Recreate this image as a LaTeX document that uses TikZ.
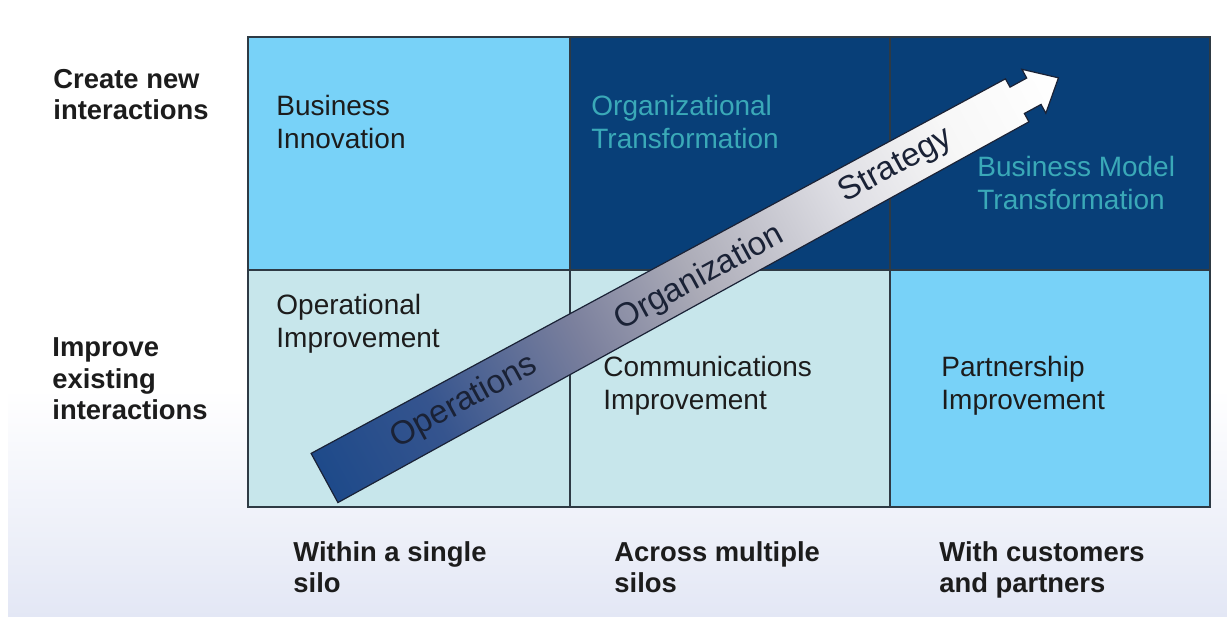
\documentclass[tikz,border=0pt]{standalone}
\usepackage{fontspec}
\setmainfont{Liberation Sans}
\usetikzlibrary{positioning}

\definecolor{skycell}{HTML}{78D2F8}
\definecolor{navycell}{HTML}{083F78}
\definecolor{palecell}{HTML}{C7E6EB}
\definecolor{tealtext}{HTML}{3AA9B8}
\definecolor{inktext}{HTML}{1C1C1C}
\definecolor{phasetext}{HTML}{1A2236}
\definecolor{gridline}{HTML}{2E3A44}
\definecolor{floorblue}{HTML}{E3E7F5}
\definecolor{fadeA}{HTML}{1E4A8A}
\definecolor{fadeB}{HTML}{35548E}
\definecolor{fadeC}{HTML}{7B809D}
\definecolor{fadeD}{HTML}{ABABB7}
\definecolor{fadeE}{HTML}{DDDDE3}
\definecolor{fadeF}{HTML}{F7F7F7}

% blue tail fading to white at the head
\pgfdeclarehorizontalshading{opsfade}{100bp}{%
  color(0bp)=(fadeA); color(25bp)=(fadeA); color(32.5bp)=(fadeB);
  color(42.5bp)=(fadeC); color(50bp)=(fadeD); color(60bp)=(fadeE);
  color(67.5bp)=(fadeF); color(75bp)=(white); color(100bp)=(white)}

\begin{document}
\begin{tikzpicture}[
    x=0.5pt, y=0.5pt,
    axislabel/.style={
      anchor=base west,
      inner sep=0pt,
      align=left,
      font=\fontsize{13.7}{15.8}\selectfont\bfseries,
      text=inktext
    },
    celllabel/.style={
      anchor=base west,
      inner sep=0pt,
      align=left,
      font=\fontsize{14}{16.5}\selectfont,
      text=inktext
    },
    phaselabel/.style={
      inner sep=0pt,
      font=\fontsize{16.5}{18}\selectfont,
      text=phasetext
    }
  ]
    \useasboundingbox (0,0) rectangle (1227,619);
    \fill[white] (0,0) rectangle (1227,619);
    % pale floor under the grid
    \shade[top color=white, bottom color=floorblue] (8,2) rectangle (1227,230);

    % the 2x3 grid
    \fill[skycell] (248,349) rectangle (570,582);
    \fill[navycell] (570,349) rectangle (1210,582);
    \fill[palecell] (248,112) rectangle (890,349);
    \fill[skycell] (890,112) rectangle (1210,349);
    \draw[gridline, line width=0.6pt] (570,112) -- (570,582) (890,112) -- (890,582) (248,349) -- (1210,349);
    \draw[gridline, line width=1pt] (248,112) rectangle (1210,582);

    % base anchor sits on the last line
    \node[axislabel] (ylabnew) at (53,499) {Create new\\interactions};
    \node[axislabel] (ylabold) at (52,199) {Improve\\existing\\interactions};
    \node[axislabel] (xlabsilo) at (293,26) {Within a single\\silo};
    \node[axislabel] (xlabmulti) at (614,26) {Across multiple\\silos};
    \node[axislabel] (xlabpartner) at (939,26) {With customers\\and partners};

    \node[celllabel] (innov) at (276,470) {Business\\Innovation};
    \node[celllabel, text=tealtext] (orgtrans) at (591,470) {Organizational\\Transformation};
    \node[celllabel, text=tealtext] (bmtrans) at (977,409) {Business Model\\Transformation};
    \node[celllabel] (opimp) at (276,271) {Operational\\Improvement};
    \node[celllabel] (commimp) at (603,209) {Communications\\Improvement};
    \node[celllabel] (partimp) at (941,209) {Partnership\\Improvement};

    % rising arrow, drawn along its own axis
    \begin{scope}[transform canvas={shift={(324.5,141)}, rotate=28.6}]
      \shade[shading=opsfade, draw=phasetext, line width=0.6pt]
        (0,28) -- (789,24.5) -- (789,15) -- (808,15) -- (808,25) -- (836,0)
        -- (808,-25) -- (808,-15) -- (789,-15) -- (789,-24.5) -- (0,-28) -- cycle;
      \node[phaselabel] (ops) at (159,0) {Operations};
      \node[phaselabel] (org) at (425,-4) {Organization};
      \node[phaselabel] (strat) at (651,0) {Strategy};
    \end{scope}
  \end{tikzpicture}
\end{document}
